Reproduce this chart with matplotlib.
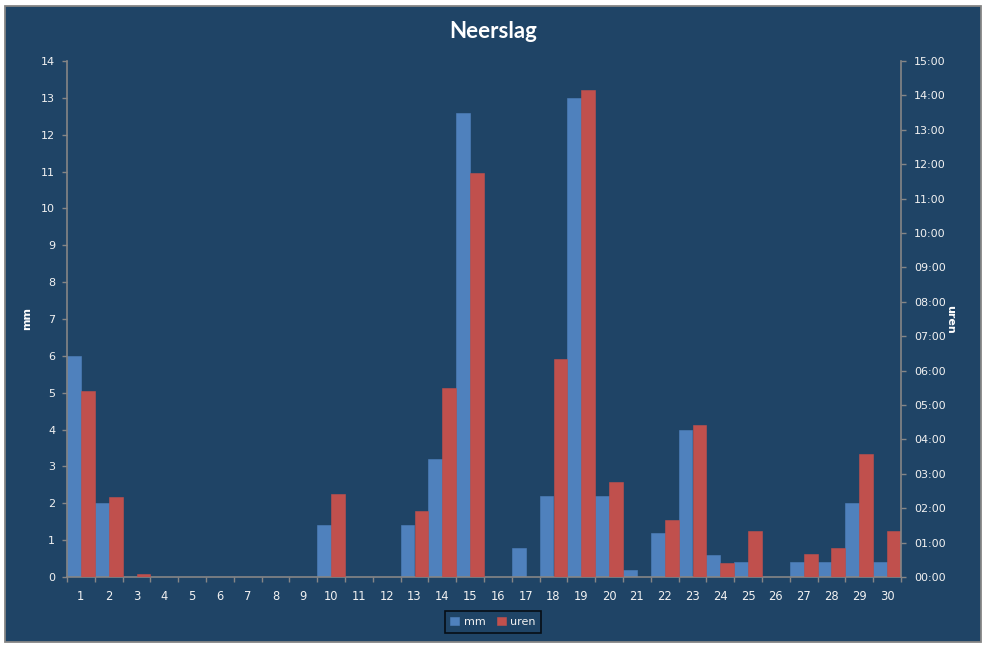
import matplotlib
matplotlib.use("Agg")
import matplotlib.pyplot as plt
from matplotlib.patches import Rectangle
from matplotlib.ticker import FixedLocator, FuncFormatter
import numpy as np

days = list(range(1, 31))
mm = [6.0, 2.0, 0, 0, 0, 0, 0, 0, 0, 1.4, 0, 0, 1.4, 3.2, 12.6, 0, 0.8, 2.2, 13.0, 2.2,
      0.2, 1.2, 4.0, 0.6, 0.4, 0, 0.4, 0.4, 2.0, 0.4]
uren_min = [325, 140, 5, 0, 0, 0, 0, 0, 0, 145, 0, 0, 115, 330, 705, 0, 0, 380, 850, 165,
            0, 100, 265, 25, 80, 0, 40, 50, 215, 80]
uren = [m / 60 for m in uren_min]

BG = "#1F4466"
GRID = "#868686"
TXT = "#F2F2F2"
BLUE = "#4F81BD"
RED = "#C0504D"

W, H = 987, 648
fig = plt.figure(figsize=(W / 100, H / 100), dpi=100, facecolor="white")
fig.patches.append(Rectangle((5 / W, 6 / H), 976 / W, 636 / H, transform=fig.transFigure,
                             facecolor=BG, edgecolor=GRID, linewidth=1.3, zorder=-10))

ax = fig.add_axes([67 / W, (H - 577) / H, 834 / W, 516 / H])
ax.set_facecolor("none")
x = np.array(days)
b1 = ax.bar(x - 0.25, mm, width=0.5, color=BLUE, edgecolor=BLUE, linewidth=0.4,
            label="mm", zorder=2)
ax.set_xlim(0.5, 30.5)
ax.set_ylim(0, 14)
ax.set_yticks(range(0, 15))

ax2 = ax.twinx()
ax2.set_facecolor("none")
b2 = ax2.bar(x + 0.25, uren, width=0.5, color=RED, edgecolor=RED, linewidth=0.4,
             label="uren", zorder=2)
ax2.set_ylim(0, 15)
ax2.set_yticks(range(0, 16))
ax2.yaxis.set_major_formatter(FuncFormatter(lambda v, p: f"{int(round(v)):02d}:00"))

for a in (ax, ax2):
    for s in a.spines.values():
        s.set_visible(False)
ax.spines["left"].set_visible(True)
ax.spines["bottom"].set_visible(True)
ax2.spines["right"].set_visible(True)
for s in (ax.spines["left"], ax.spines["bottom"], ax2.spines["right"]):
    s.set_color(GRID)
    s.set_linewidth(1.2)
    s.set_zorder(3)

ax.set_xticks(days)
ax.set_xticklabels([str(d) for d in days])
ax.xaxis.set_minor_locator(FixedLocator(np.arange(0.5, 31, 1)))
ax.tick_params(axis="x", which="major", length=0, pad=9, labelsize=8.3, labelcolor=TXT)
ax.tick_params(axis="x", which="minor", length=3.5, width=1, color=GRID, direction="out")
ax.tick_params(axis="y", length=3.5, width=1, color=GRID, pad=5, labelsize=8, labelcolor=TXT)
ax2.tick_params(axis="y", length=3.5, width=1, color=GRID, pad=6, labelsize=8, labelcolor=TXT)

ax.set_ylabel("mm", color="white", fontsize=8, fontweight="bold")
ax.yaxis.set_label_coords(-0.042, 0.5)
ax2.set_ylabel("uren", color="white", fontsize=8, fontweight="bold", rotation=-90)
ax2.yaxis.set_label_coords(1.065, 0.5)

fig.text(0.5, (H - 32) / H, "Neerslag", ha="center", va="center", color="white",
         fontsize=16, fontweight="bold", family="Lato")

leg = fig.legend([b1, b2], ["mm", "uren"], loc="center", bbox_to_anchor=(493 / W, 26 / H),
                 ncol=2, frameon=True, fancybox=False, fontsize=8, handlelength=0.8,
                 handleheight=0.8, handletextpad=0.4, columnspacing=1.0, borderpad=0.5)
leg.get_frame().set_facecolor("none")
leg.get_frame().set_edgecolor("black")
leg.get_frame().set_linewidth(1.2)
for t in leg.get_texts():
    t.set_color(TXT)

fig.savefig("out.png", dpi=100, facecolor="white")
